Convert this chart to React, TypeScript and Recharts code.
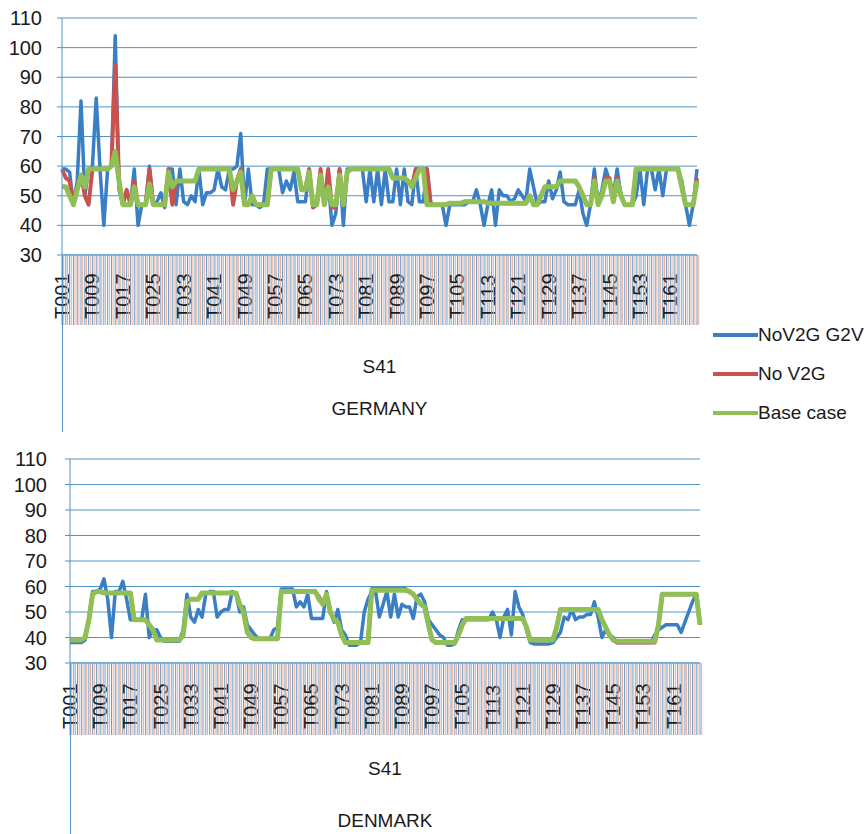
import React from "react";
import {
  ComposedChart,
  Line,
  XAxis,
  YAxis,
  CartesianGrid,
  Legend,
} from "recharts";

// hourly slots T001..T168
const hours = Array.from({ length: 168 }, (_, i) => "T" + String(i + 1).padStart(3, "0"));
const yTicks = [30, 40, 50, 60, 70, 80, 90, 100, 110];

// GERMANY
const deG2V = [
  59, 59, 58, 47, 55, 82, 50, 59, 60, 83, 59, 40, 59, 60, 104, 52, 47, 47, 47, 59,
  40, 47, 47, 60, 47, 48, 51, 46, 59, 59, 47, 59, 48, 47, 50, 48, 59, 47, 51, 51,
  52, 59, 53, 52, 59, 59, 60, 71, 47, 59, 47, 47, 46, 47, 59, 59, 59, 59, 51, 55,
  52, 58, 48, 48, 48, 58, 47, 47, 58, 47, 55, 40, 44, 59, 40, 59, 59, 59, 59, 59,
  48, 59, 48, 59, 47, 59, 48, 48, 59, 47, 59, 48, 47, 59, 48, 48, 59, 47, 47, 47,
  47, 40, 47, 47, 47, 47, 47, 48, 48, 52, 47, 40, 47, 52, 40, 52, 50, 50, 48, 49,
  52, 50, 48, 59, 53, 47, 48, 48, 55, 49, 52, 58, 48, 47, 47, 47, 52, 44, 40, 47,
  59, 47, 52, 59, 55, 50, 59, 50, 47, 47, 47, 50, 59, 47, 59, 59, 52, 59, 50, 59,
  59, 59, 59, 55, 47, 40, 47, 59,
];
const deNoV2G = [
  59, 56, 55, 47, 52, 57, 50, 47, 59, 59, 59, 59, 59, 60, 94, 55, 47, 52, 47, 55,
  47, 47, 47, 59, 47, 47, 47, 47, 59, 47, 55, 55, 55, 55, 55, 55, 59, 59, 59, 59,
  59, 59, 59, 59, 59, 47, 55, 59, 47, 47, 50, 47, 47, 47, 47, 59, 59, 59, 59, 59,
  59, 59, 59, 52, 52, 59, 46, 47, 59, 47, 59, 46, 46, 59, 47, 58, 59, 59, 59, 59,
  59, 59, 59, 59, 59, 59, 59, 56, 56, 56, 56, 55, 53, 59, 59, 59, 59, 47, 47, 47,
  47, 47, 47.5, 47.5, 47.5, 47.5, 48, 48, 48, 48, 48, 48, 47.5, 47.5, 47.5, 47.5, 47.5, 47.5, 47.5, 47.5,
  47.5, 47.5, 47.5, 50, 47, 47, 50, 53, 53, 53, 53, 55, 55, 55, 55, 55, 53, 50, 47, 47,
  56, 47, 50, 56, 56, 48, 56, 50, 47, 47, 47, 59, 59, 59, 59, 59, 59, 59, 59, 59,
  59, 59, 59, 53, 47, 47, 47, 56,
];
const deBase = [
  53, 53, 50, 47, 52, 57, 53, 59, 59, 59, 59, 59, 59, 60, 65, 55, 47, 47, 47, 53,
  47, 47, 47, 54, 47, 47, 47, 47, 58, 53, 55, 55, 55, 55, 55, 55, 59, 59, 59, 59,
  59, 59, 59, 59, 59, 52, 55, 58, 47, 47, 50, 47, 47, 47, 47, 59, 59, 59, 59, 59,
  59, 59, 59, 52, 52, 58, 47, 47, 57, 47, 53, 47, 47, 57, 47, 58, 59, 59, 59, 59,
  59, 59, 59, 59, 59, 59, 59, 56, 56, 56, 56, 55, 53, 56, 59, 59, 47, 47, 47, 47,
  47, 47, 47.5, 47.5, 47.5, 47.5, 48, 48, 48, 48, 48, 48, 47.5, 47.5, 47.5, 47.5, 47.5, 47.5, 47.5, 47.5,
  47.5, 47.5, 47.5, 50, 47, 47, 50, 53, 53, 53, 53, 55, 55, 55, 55, 55, 53, 50, 47, 47,
  55, 47, 50, 55, 55, 48, 55, 50, 47, 47, 47, 59, 59, 59, 59, 59, 59, 59, 59, 59,
  59, 59, 59, 53, 47, 47, 47, 55,
];

// DENMARK
const dkG2V = [
  38, 38, 38, 38, 39, 47, 58, 58, 59, 63, 55, 40, 58, 58, 62, 55, 47, 47, 47, 47,
  57, 40, 43, 43, 40, 38.5, 38.5, 38.5, 38.5, 38.5, 43, 57, 48, 46, 51, 48, 57, 58, 58, 48,
  50, 51, 51, 58, 57, 50, 52, 45, 43, 41, 39.5, 39.5, 39.5, 39.5, 43, 44, 59, 59, 59, 59,
  52, 54, 52, 57, 47.5, 47.5, 47.5, 47.5, 58, 50, 46, 51, 43, 41, 37, 37, 37, 38, 50, 55,
  58, 58, 48, 53, 58, 48, 57, 48, 53, 52, 52, 47.5, 56, 57, 54, 47, 45, 43, 41, 40,
  37, 37, 37.5, 43, 47, 47, 47, 47, 47, 47, 47, 47, 50, 47, 40, 48, 51, 41, 58, 52,
  49, 43, 38, 37.5, 37.5, 37.5, 37.5, 37.5, 38, 40, 42, 48, 47, 51, 47, 48, 48, 49, 49, 54,
  48, 40, 43, 41, 40, 38, 38, 38, 38, 38, 38, 38, 38, 38, 38, 41, 43, 44, 45, 45,
  45, 45, 42, 46, 50, 54, 57, 45,
];
const dkNoV2G = [
  39, 39, 39, 39, 40, 47, 57, 58, 58, 57.5, 57.5, 57.5, 57.5, 57.5, 57.5, 57.5, 57.5, 47, 47, 47,
  47, 45, 43, 39, 39, 39, 39, 39, 39, 39, 41, 54, 55, 55, 55, 57.5, 57.5, 57.5, 57.5, 57.5,
  57.5, 57.5, 57.5, 57.5, 57.5, 53, 50, 42, 40, 39.5, 39.5, 39.5, 39.5, 39.5, 39.5, 39.5, 58, 58, 58, 58,
  58, 58, 58, 58, 58, 58, 56, 53, 57, 50, 47, 46, 41, 38, 38, 38, 38, 38, 38, 38,
  59, 59, 59, 59, 59, 59, 59, 59, 59, 59, 58, 57, 55, 53, 52, 45, 39, 38, 38, 38,
  38, 38, 38, 41, 45, 47.5, 47.5, 47.5, 47.5, 47.5, 47.5, 47.5, 47.5, 47.5, 47.5, 47.5, 47.5, 47.5, 47.5, 47.5,
  47.5, 44, 39, 39, 39, 39, 39, 39, 39, 44, 51, 51, 51, 51, 51, 51, 51, 51, 51, 51,
  51, 47, 44, 41, 39, 38, 38, 38, 38, 38, 38, 38, 38, 38, 38, 38, 45, 57, 57, 57,
  57, 57, 57, 57, 57, 57, 57, 45,
];
const dkBase = [
  39, 39, 39, 39, 40, 47, 57, 58, 58, 57.5, 57.5, 57.5, 57.5, 57.5, 57.5, 57.5, 57.5, 47, 47, 47,
  47, 45, 43, 39, 39, 39, 39, 39, 39, 39, 41, 54, 55, 55, 55, 57.5, 57.5, 57.5, 57.5, 57.5,
  57.5, 57.5, 57.5, 57.5, 57.5, 53, 50, 42, 40, 39.5, 39.5, 39.5, 39.5, 39.5, 39.5, 39.5, 58, 58, 58, 58,
  58, 58, 58, 58, 58, 58, 55, 53, 57, 50, 47, 46, 41, 38, 38, 38, 38, 38, 38, 38,
  58.5, 58.5, 58.5, 58.5, 58.5, 58.5, 58.5, 58.5, 58.5, 58.5, 58, 57, 55, 53, 52, 45, 39, 38, 38, 38,
  38, 38, 38, 41, 45, 47.5, 47.5, 47.5, 47.5, 47.5, 47.5, 47.5, 47.5, 47.5, 47.5, 47.5, 47.5, 47.5, 47.5, 47.5,
  47.5, 44, 39, 39, 39, 39, 39, 39, 39, 44, 51, 51, 51, 51, 51, 51, 51, 51, 51, 51,
  51, 47, 44, 41, 39, 38.5, 38.5, 38.5, 38.5, 38.5, 38.5, 38.5, 38.5, 38.5, 38.5, 38.5, 45, 57, 57, 57,
  57, 57, 57, 57, 57, 57, 57, 45,
];

const series = [
  { key: "g2v", name: "NoV2G G2V", color: "#3a7ec6", width: 3.5 },
  { key: "nov2g", name: "No V2G", color: "#c9524e", width: 4 },
  { key: "base", name: "Base case", color: "#8fbf55", width: 5 },
];

const FONT = "'Liberation Sans', Arial, sans-serif";
const GRID = "#4f93c6";

const toRows = (a: number[], b: number[], c: number[]) =>
  hours.map((t, i) => ({ t, g2v: a[i], nov2g: b[i], base: c[i] }));

const germanyRows = toRows(deG2V, deNoV2G, deBase);
const denmarkRows = toRows(dkG2V, dkNoV2G, dkBase);

function HourTick(props: any) {
  const { x, y, index, payload, hatch } = props;
  const tx = x + 7;
  const ty = y + hatch - 6;
  return (
    <g>
      <line x1={x} y1={y} x2={x} y2={y + hatch} stroke="#6c9dcb" strokeWidth={1} />
      <line x1={x + 1.7} y1={y} x2={x + 1.7} y2={y + hatch} stroke="#e8ae98" strokeWidth={1} />
      {index % 8 === 0 && (
        <text
          x={tx}
          y={ty}
          transform={`rotate(-90 ${tx} ${ty})`}
          textAnchor="start"
          fontSize={20}
          fontFamily={FONT}
          fill="#1a1a1a"
        >
          {payload.value}
        </text>
      )}
    </g>
  );
}

function SeriesLegend() {
  return (
    <div style={{ fontFamily: FONT, fontSize: 19, color: "#1a1a1a" }}>
      {series.map(s => (
        <div key={s.key} style={{ display: "flex", alignItems: "center", height: 39 }}>
          <span style={{ width: 45, height: 4, background: s.color, display: "inline-block" }} />
          <span style={{ whiteSpace: "nowrap" }}>{s.name}</span>
        </div>
      ))}
    </div>
  );
}

interface CountryProps {
  rows: any[];
  top: number;
  height: number;
  axisX: number;
  plotRight: number;
  plotTop: number;
  plotBottom: number;
  hatch: number;
  labelGap: number;
  scenarioY: number;
  country: string;
  countryY: number;
  legend?: boolean;
}

function CountryChart(p: CountryProps) {
  const marginBottom = p.height - p.plotBottom - p.hatch;
  return (
    <div style={{ position: "absolute", left: 0, top: p.top, width: 868, height: p.height }}>
      <ComposedChart
        width={868}
        height={p.height}
        data={p.rows}
        margin={{ top: p.plotTop, right: 868 - p.plotRight, left: 0, bottom: marginBottom }}
      >
        <CartesianGrid vertical={false} stroke={GRID} strokeWidth={1} />
        <XAxis
          dataKey="t"
          interval={0}
          height={p.hatch}
          tickSize={0}
          tickMargin={0}
          tickLine={false}
          axisLine={{ stroke: GRID }}
          tick={(tp: any) => <HourTick {...tp} hatch={p.hatch} />}
        />
        <YAxis
          width={p.axisX}
          domain={[30, 110]}
          ticks={yTicks}
          interval={0}
          allowDataOverflow
          tickSize={5}
          tickMargin={p.labelGap}
          axisLine={{ stroke: GRID }}
          tickLine={{ stroke: GRID }}
          tick={{ fontSize: 20, fill: "#1a1a1a", fontFamily: FONT }}
        />
        {series.map(s => (
          <Line
            key={s.key}
            type="linear"
            dataKey={s.key}
            name={s.name}
            stroke={s.color}
            strokeWidth={s.width}
            strokeLinejoin="round"
            dot={false}
            activeDot={false}
            isAnimationActive={false}
          />
        ))}
        {p.legend && (
          <Legend
            layout="vertical"
            align="center"
            verticalAlign="middle"
            content={() => <SeriesLegend />}
            wrapperStyle={{ left: 713, top: 315, width: 155 }}
          />
        )}
      </ComposedChart>
      <div
        style={{
          position: "absolute",
          left: p.axisX,
          top: p.plotBottom,
          width: 0,
          height: p.height - p.plotBottom,
          borderLeft: `1px solid ${GRID}`,
        }}
      />
      <div
        style={{
          position: "absolute",
          left: p.axisX,
          width: p.plotRight - p.axisX,
          top: p.scenarioY - 12,
          textAlign: "center",
          fontFamily: FONT,
          fontSize: 19,
          color: "#1a1a1a",
        }}
      >
        S41
      </div>
      <div
        style={{
          position: "absolute",
          left: p.axisX,
          width: p.plotRight - p.axisX,
          top: p.countryY - 12,
          textAlign: "center",
          fontFamily: FONT,
          fontSize: 19,
          color: "#1a1a1a",
        }}
      >
        {p.country}
      </div>
    </div>
  );
}

export default function App() {
  return (
    <div
      style={{
        position: "fixed",
        left: 0,
        top: 0,
        width: 868,
        height: 834,
        overflow: "hidden",
        background: "#fff",
      }}
    >
      <CountryChart
        rows={germanyRows}
        top={0}
        height={432}
        axisX={62}
        plotRight={697}
        plotTop={18}
        plotBottom={255}
        hatch={70}
        labelGap={15}
        scenarioY={368}
        country="GERMANY"
        countryY={410}
        legend
      />
      <CountryChart
        rows={denmarkRows}
        top={440}
        height={394}
        axisX={70}
        plotRight={700}
        plotTop={19}
        plotBottom={223}
        hatch={72}
        labelGap={18}
        scenarioY={330}
        country="DENMARK"
        countryY={382}
      />
    </div>
  );
}
